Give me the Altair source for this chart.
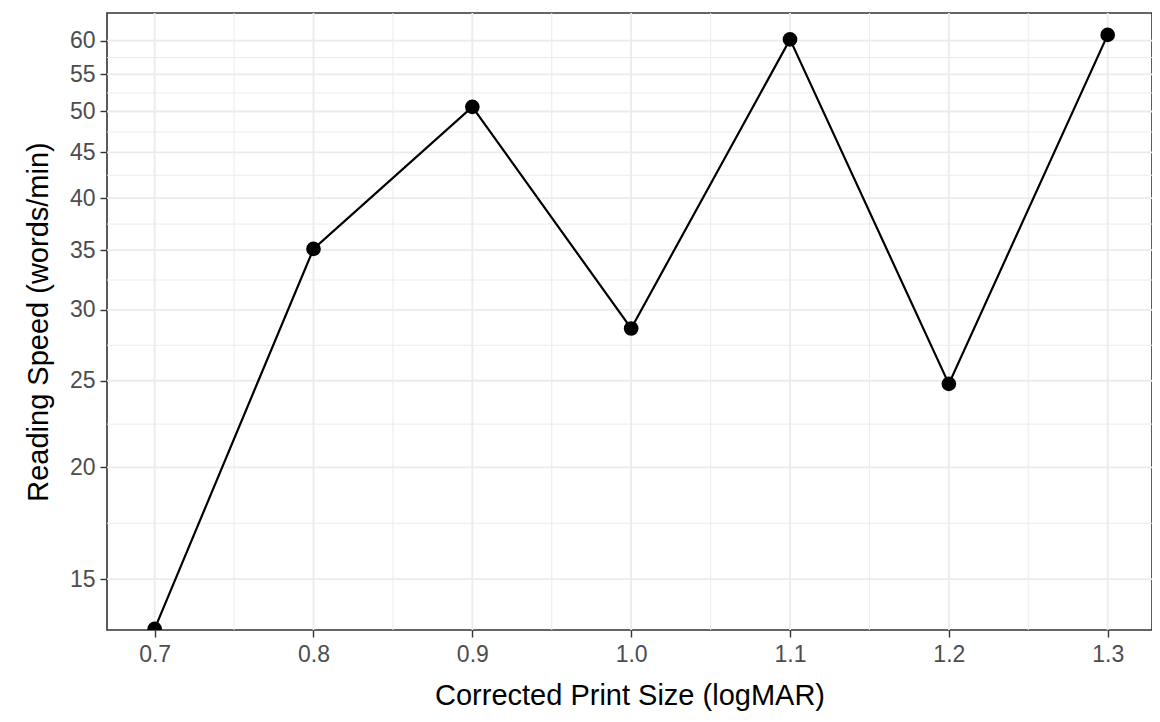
import altair as alt
import pandas as pd

# Data
print_size = [0.7, 0.8, 0.9, 1.0, 1.1, 1.2, 1.3]
reading_speed = [13.2, 35.1, 50.6, 28.6, 60.2, 24.8, 60.9]

# Axis breaks
x_ticks = [0.7, 0.8, 0.9, 1.0, 1.1, 1.2, 1.3]
x_minor = [0.75, 0.85, 0.95, 1.05, 1.15, 1.25]
y_ticks = [15, 20, 25, 30, 35, 40, 45, 50, 55, 60]
y_minor = [17.32, 22.36, 27.39, 32.40, 37.42, 42.43, 47.43, 52.44, 57.45]
x_domain = [0.6700, 1.3279]
y_domain = [13.16, 64.43]

df = pd.DataFrame({"x": print_size, "y": reading_speed})

FONT = "Liberation Sans"
GRID = "#EBEBEB"

xscale = alt.Scale(domain=x_domain, nice=False, zero=False)
yscale = alt.Scale(type="log", domain=y_domain, nice=False, zero=False)

x_axis = alt.Axis(values=x_ticks, format=".1f", title="Corrected Print Size (logMAR)",
                  labelPadding=6, titlePadding=15)
y_axis = alt.Axis(values=y_ticks, format="d", title="Reading Speed (words/min)",
                  labelPadding=5, titlePadding=16)

xenc = alt.X("x:Q", scale=xscale, axis=x_axis)
yenc = alt.Y("y:Q", scale=yscale, axis=y_axis)

minor_x = alt.Chart(pd.DataFrame({"x": x_minor})).mark_rule(
    color=GRID, strokeWidth=1.0).encode(x=xenc)
major_x = alt.Chart(pd.DataFrame({"x": x_ticks})).mark_rule(
    color=GRID, strokeWidth=1.8).encode(x=xenc)
minor_y = alt.Chart(pd.DataFrame({"y": y_minor})).mark_rule(
    color=GRID, strokeWidth=1.0).encode(y=yenc)
major_y = alt.Chart(pd.DataFrame({"y": y_ticks})).mark_rule(
    color=GRID, strokeWidth=1.8).encode(y=yenc)

line = alt.Chart(df).mark_line(color="black", strokeWidth=2.2, clip=True).encode(x=xenc, y=yenc)
points = alt.Chart(df).mark_circle(color="black", size=215, opacity=1, clip=True).encode(x=xenc, y=yenc)

chart = alt.layer(minor_x, minor_y, major_x, major_y, line, points).properties(
    width=1045,
    height=617,
    padding={"left": 99, "top": 5, "right": 0, "bottom": 85},
    autosize=alt.AutoSizeParams(type="none"),
    background="white",
).configure_view(
    stroke="#333333", strokeWidth=1.6, fill="white"
).configure_axis(
    grid=False,
    domain=False,
    ticks=True,
    tickColor="#333333",
    tickWidth=1.4,
    tickSize=7,
    labelFont=FONT,
    labelFontSize=23,
    labelColor="#4D4D4D",
    titleFont=FONT,
    titleFontSize=29,
    titleFontWeight="normal",
    titleColor="black",
)

chart.save("out.html", embed_options={"renderer": "svg", "actions": False})
